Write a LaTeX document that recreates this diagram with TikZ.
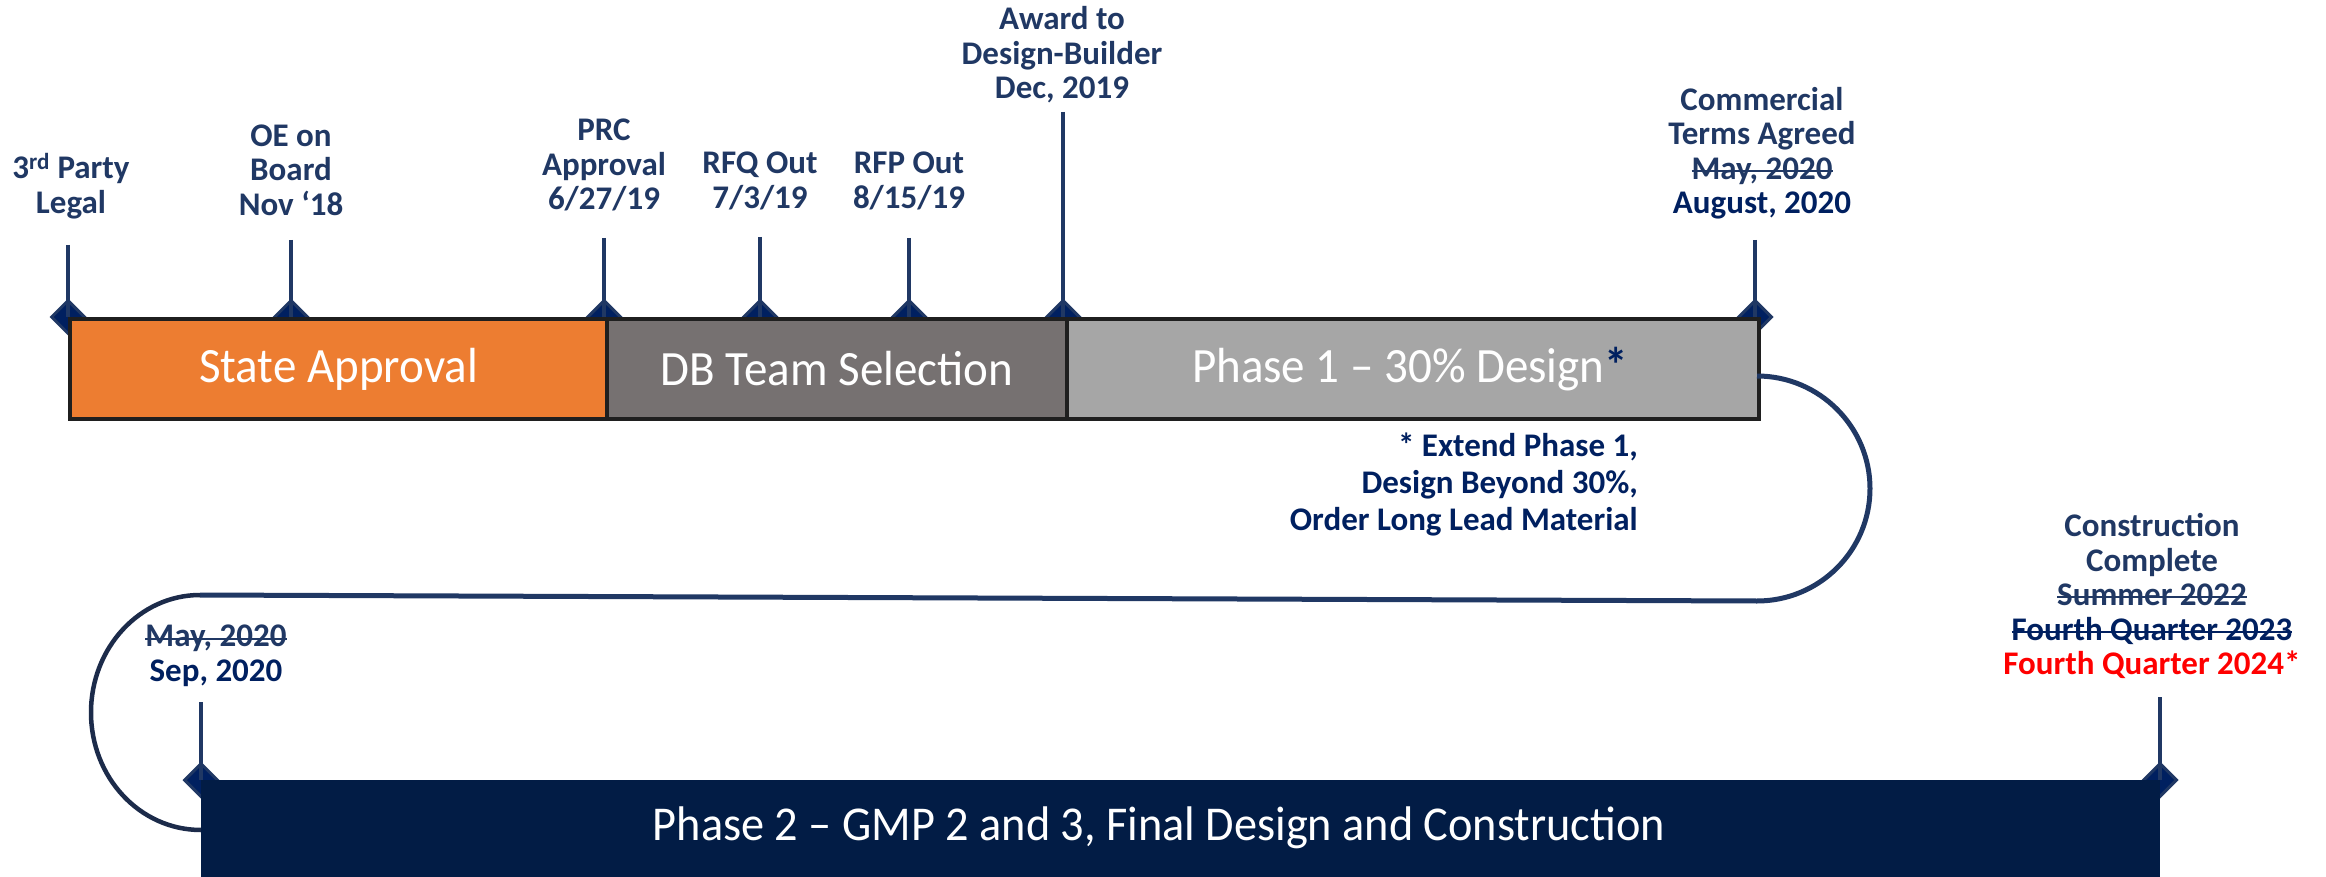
\documentclass[tikz,border=0pt]{standalone}
\usepackage{fontspec}
\setmainfont{Carlito}
\usetikzlibrary{shapes.geometric}
\newsavebox\strkbox
\newcommand\strk[1]{\sbox\strkbox{#1}\rlap{\usebox\strkbox}\rule[0.22em]{\wd\strkbox}{2.2pt}}
\newcommand\tallish[1]{\scalebox{1}[1.05]{#1}}
\definecolor{navy}{HTML}{203864}
\definecolor{deepnavy}{HTML}{002060}
\definecolor{barnavy}{HTML}{021C45}
\definecolor{orng}{HTML}{ED7D31}
\definecolor{dgray}{HTML}{767171}
\definecolor{lgray}{HTML}{A6A6A6}
\definecolor{loopdark}{HTML}{1C2B4A}
\begin{document}
\begin{tikzpicture}[x=1pt,y=-1pt,
  lbl/.style={font=\fontsize{33}{34.5}\selectfont\bfseries, text=navy, align=center, inner sep=0pt},
  tick/.style={draw=navy, line width=3.5pt},
  diam/.style={diamond, fill=deepnavy, draw=navy, line width=3pt, minimum width=34pt, minimum height=34pt, inner sep=0pt},
  seg/.style={draw=black!88, line width=4pt, minimum height=100pt, inner sep=0pt, anchor=north west, font=\fontsize{47}{50}\selectfont, text=white},
  conn/.style={draw=navy, line width=5pt},
  loopl/.style={draw=loopdark, line width=4.5pt}
]
\useasboundingbox (0,0) rectangle (2326,877);
\fill[white] (0,0) rectangle (2326,877);

% ---- top milestones: diamonds and ticks
\node[diam] (d1) at (68,317) {};
\node[diam] (d2) at (291,317) {};
\node[diam] (d3) at (604,317) {};
\node[diam] (d4) at (760,317) {};
\node[diam] (d5) at (909,317) {};
\node[diam] (d6) at (1063,317) {};
\node[diam] (d7) at (1755,317) {};
\coordinate (t1) at (68,245);
\coordinate (t2) at (291,240);
\coordinate (t3) at (604,238);
\coordinate (t4) at (760,237);
\coordinate (t5) at (909,238);
\coordinate (t6) at (1063,112);
\coordinate (t7) at (1755,240);
\foreach \i in {1,...,7} {\draw[tick] (t\i) -- (d\i.center);}

% ---- top bar segments
\node[seg, fill=orng, minimum width=537pt] (sa) at (68,317) {\tallish{State Approval}};
\node[seg, fill=dgray, minimum width=460pt] (db) at (605,317) {\tallish{DB Team Selection}};
\node[seg, fill=lgray, minimum width=692pt] (p1) at (1065,317) {};
\node[font=\fontsize{47}{50}\selectfont, text=white, inner sep=0pt] (p1t) at (1410,369) {\tallish{Phase 1 -- 30\% Design\textcolor{deepnavy}{\textbf{*}}}};

% ---- top labels
\node[lbl] (l1) at (71,186) {3\textsuperscript{rd} Party\\Legal};
\node[lbl] (l2) at (291,170) {OE on\\Board\\Nov `18};
\node[lbl] (l3) at (604,165) {PRC\\Approval\\6/27/19};
\node[lbl] (l4) at (760,181) {RFQ Out\\7/3/19};
\node[lbl] (l5) at (909,181) {RFP Out\\8/15/19};
\node[lbl] (l6) at (1062,55) {Award to\\Design-Builder\\Dec, 2019};
\node[lbl] (l7) at (1762,153) {Commercial\\Terms Agreed\\\strk{May, 2020}\\\textcolor{deepnavy}{August, 2020}};

% ---- footnote
\node[lbl, text=deepnavy, align=right, anchor=east, font=\fontsize{33}{37}\selectfont\bfseries] (fn) at (1638,484) {* Extend Phase 1,\\Design Beyond 30\%,\\Order Long Lead Material};

% ---- connector loops
\coordinate (a) at (1757,376);
\coordinate (b) at (1757,601);
\coordinate (c) at (200,595);
\coordinate (e) at (201,830);
\draw[conn] (a) .. controls (1819.4,376) and (1870,426.9) .. (1870,488.5)
  .. controls (1870,550.6) and (1819.4,601) .. (b) -- (c);
\draw[loopl] (c) .. controls (139.8,595) and (91,647.6) .. (91,712.5)
  .. controls (91,777.4) and (139.8,830) .. (e);

% ---- bottom milestones
\node[diam] (d8) at (201,780) {};
\node[diam] (d9) at (2160,780) {};
\coordinate (t8) at (201,702);
\coordinate (t9) at (2160,697);
\draw[tick] (t8) -- (d8.center);
\draw[tick] (t9) -- (d9.center);

\node[lbl] (l8) at (216,656) {\strk{May, 2020}\\\textcolor{deepnavy}{Sep, 2020}};
\node[lbl] (l9) at (2152,596) {Construction\\Complete\\\strk{Summer 2022}\\\textcolor{deepnavy}{\strk{Fourth Quarter 2023}}\\\textcolor{red}{Fourth Quarter 2024*}};

% ---- phase 2 bar
\node[fill=barnavy, anchor=north west, minimum width=1959pt, minimum height=110pt, inner sep=0pt] (p2) at (201,780) {};
\node[font=\fontsize{46.3}{50}\selectfont, text=white, inner sep=0pt] (p2t) at (1159,828) {\tallish{Phase 2 -- GMP 2 and 3, Final Design and Construction}};
\end{tikzpicture}
\end{document}
